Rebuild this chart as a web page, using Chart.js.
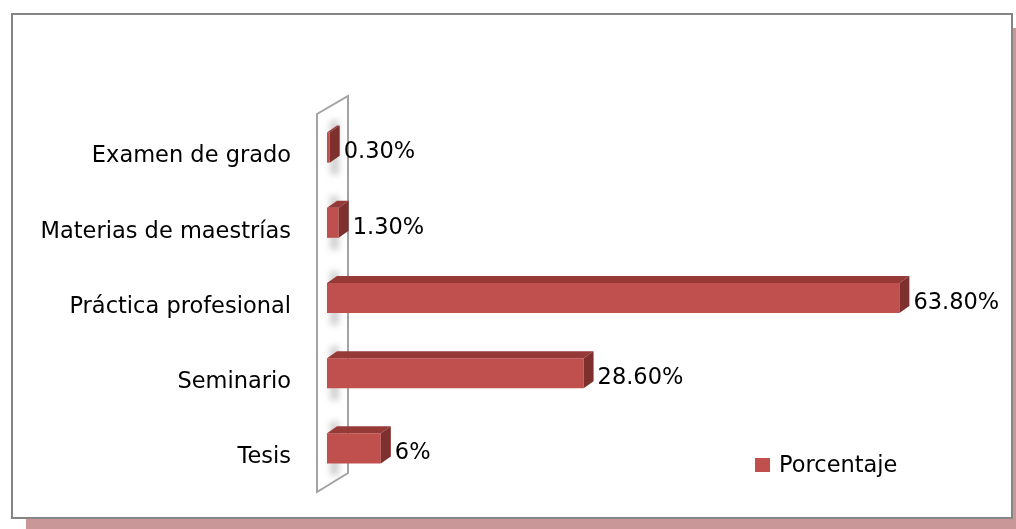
<!DOCTYPE html>
<html>
<head>
<meta charset="utf-8">
<script src="https://cdn.jsdelivr.net/npm/chart.js@4/dist/chart.umd.min.js"></script>
<style>
  html, body { margin: 0; padding: 0; background: #fff; }
  #wrap { position: relative; width: 1016px; height: 529px; overflow: hidden; }
  #frame {
    position: absolute; left: 11px; top: 13px; width: 1002px; height: 506px;
    box-sizing: border-box; border: 2px solid #858585; background: #fff;
    box-shadow: 15px 15px 0 #c99797;
  }
  #myBarChart { position: absolute; left: 0; top: 0; }
</style>
</head>
<body>
<div id="wrap">
  <div id="frame"></div>
  <canvas id="myBarChart" width="1016" height="529"></canvas>
</div>
<script>
const categories = ['Examen de grado', 'Materias de maestrías', 'Práctica profesional', 'Seminario', 'Tesis'];
const porcentaje = [0.3, 1.3, 63.8, 28.6, 6];
const seriesName = 'Porcentaje';

const FONT = '22.5px "DejaVu Sans"';
const FRONT = '#c0504d';
const TOP = '#963a38';
const SIDE = '#7e302e';
const DX = 10, DY = -7;

function fmt(v) {
    return Number.isInteger(v) ? v + '%' : v.toFixed(2) + '%';
}

// wall behind bars + 3d faces + value labels + legend
const bar3d = {
    id: 'bar3d',
    beforeDatasetsDraw(chart) {
        const ctx = chart.ctx;
        const a = chart.chartArea;
        const x0 = a.left - 10, y0 = a.top + 4, y1 = a.bottom + 6;
        ctx.save();
        ctx.beginPath();
        ctx.moveTo(x0, y0);
        ctx.lineTo(x0 + 31, y0 - 18);
        ctx.lineTo(x0 + 31, y1 - 19);
        ctx.lineTo(x0, y1);
        ctx.closePath();
        ctx.fillStyle = '#fff';
        ctx.fill();
        // soft shadows of the bars on the wall
        const meta = chart.getDatasetMeta(0);
        ctx.filter = 'blur(3px)';
        ctx.fillStyle = 'rgba(0,0,0,0.18)';
        meta.data.forEach(b => {
            ctx.fillRect(a.left + 3, b.y - b.height / 2 - 12, 9, b.height + 24);
        });
        ctx.filter = 'none';
        ctx.strokeStyle = '#a3a3a3';
        ctx.lineWidth = 2;
        ctx.stroke();
        ctx.restore();
    },
    afterDatasetsDraw(chart) {
        const ctx = chart.ctx;
        const meta = chart.getDatasetMeta(0);
        ctx.save();
        meta.data.forEach((b, i) => {
            const top = b.y - b.height / 2, bot = b.y + b.height / 2;
            ctx.fillStyle = TOP;
            ctx.beginPath();
            ctx.moveTo(b.base, top);
            ctx.lineTo(b.x, top);
            ctx.lineTo(b.x + DX, top + DY);
            ctx.lineTo(b.base + DX, top + DY);
            ctx.closePath();
            ctx.fill();
            ctx.fillStyle = SIDE;
            ctx.beginPath();
            ctx.moveTo(b.x, top);
            ctx.lineTo(b.x + DX, top + DY);
            ctx.lineTo(b.x + DX, bot + DY);
            ctx.lineTo(b.x, bot);
            ctx.closePath();
            ctx.fill();
            ctx.fillStyle = '#000';
            ctx.font = FONT;
            ctx.textAlign = 'left';
            ctx.textBaseline = 'middle';
            ctx.fillText(fmt(porcentaje[i]), b.x + DX + 4, b.y + 5);
        });
        // legend
        const a = chart.chartArea;
        const lx = a.right - 200, ly = a.bottom - 21;
        ctx.fillStyle = FRONT;
        ctx.fillRect(lx, ly - 7, 15, 14);
        ctx.fillStyle = '#000';
        ctx.font = FONT;
        ctx.textBaseline = 'middle';
        ctx.fillText(seriesName, lx + 24, ly + 1);
        ctx.restore();
    }
};

const barCtx = document.getElementById('myBarChart').getContext('2d');

const myBarChart = new Chart(barCtx, {
    type: 'bar',
    data: {
        labels: categories,
        datasets: [{
            label: seriesName,
            data: porcentaje,
            backgroundColor: FRONT,
            borderWidth: 0,
            categoryPercentage: 1,
            barPercentage: 0.4
        }]
    },
    options: {
        indexAxis: 'y',
        responsive: false,
        maintainAspectRatio: false,
        animation: false,
        layout: { padding: { left: 0, top: 110, bottom: 43, right: 61 } },
        plugins: {
            legend: { display: false },
            tooltip: { enabled: false }
        },
        scales: {
            x: { display: false, min: 0, max: 70 },
            y: {
                grid: { display: false, drawTicks: false },
                border: { display: false },
                ticks: {
                    color: '#000',
                    font: { family: 'DejaVu Sans', size: 22.5 },
                    padding: 36,
                    labelOffset: 9
                },
                afterFit(scale) {
                    scale.width = 327;
                    scale.paddingTop = 0;
                    scale.paddingBottom = 0;
                }
            }
        }
    },
    plugins: [bar3d]
});
</script>
</body>
</html>
